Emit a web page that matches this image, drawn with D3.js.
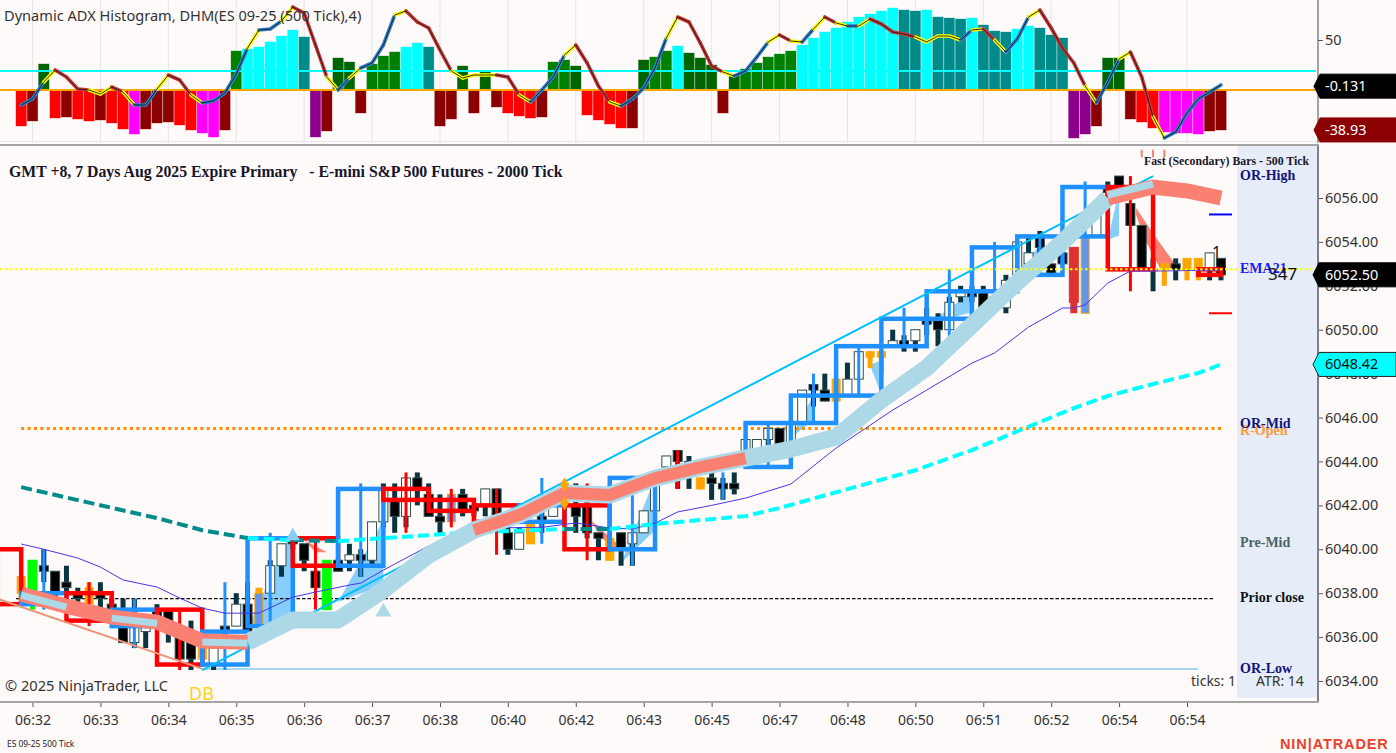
<!DOCTYPE html>
<html><head><meta charset="utf-8">
<script src="https://cdn.jsdelivr.net/npm/d3@7"></script>
<style>
html,body{margin:0;padding:0;background:#fffafa;overflow:hidden}
svg{display:block}
</style></head><body><svg id="c" width="1396" height="753"></svg>
<script>
// ---------- data ----------
const firstSlot = -1;
const timeLabels = ["06:32","06:33","06:34","06:35","06:36","06:37","06:38","06:40","06:42","06:43","06:45","06:47","06:48","06:50","06:51","06:52","06:54","06:54"];
const priceTicks = [6034,6036,6038,6040,6042,6044,6046,6048,6050,6052,6054,6056];

// oscillator histogram, slots -1..105
const histValues = [-36,-31,26,-28,-27,-29,-31,-30,-33,-39,-44,-39,-33,-32,-35,-40,-43,-47,-40,39,41,43,48,54,60,53,-47,-41,32,28,-23,26,34,38,43,47,43,-36,-29,24,-23,18,-17,-23,-26,-28,-27,28,30,24,-25,-30,-34,-38,-38,30,33,39,44,37,32,25,-23,14,21,27,33,36,39,45,52,58,62,68,73,76,79,82,80,79,80,73,72,71,72,65,59,58,61,64,62,55,52,-48,-44,-36,32,32,-29,-32,-38,-42,-43,-43,-44,-41,-40];
const histColors = "r,D,G,r,D,r,r,D,r,r,m,D,D,D,r,r,m,m,D,g,c,c,c,c,c,t,p,D,G,G,D,g,g,g,c,c,t,D,D,G,D,G,D,r,r,r,D,g,g,G,r,r,r,r,D,G,g,g,c,G,G,G,D,G,g,g,g,g,g,c,c,c,c,c,c,c,c,c,t,t,c,t,t,t,c,t,t,t,c,c,t,t,t,p,p,D,G,G,D,r,r,m,m,m,m,D,D".split(",");
const dhmValues = [-15,-9,8,20,13,1,0,-4,3,-2,-15,-15,1,15,10,-5,-13,-11,-3,16,42,60,61,69,83,77,45,13,0,12,22,27,45,75,79,68,62,40,19,12,15,15,15,13,-5,-12,0,13,35,45,27,4,-12,-16,-9,2,22,52,73,68,47,24,18,14,19,33,48,55,49,48,61,73,67,64,64,71,66,58,56,53,48,54,54,50,60,61,50,38,51,73,80,62,42,27,4,-13,8,31,38,13,-27,-48,-42,-23,-9,-2,5];
const dhmStates = "bbyrrryyrybbyrrybbbbybbyrrrybybbbyrrrryyyyrrybbbyrrrybbbbyrrrrybbbyrybyrybyrrrryyyybyrybbyrrrrybbyrrybbbbb";
const oscLevel = 19, oscLabelA = -0.131, oscLabelB = -38.93;

// 500-tick candles, slots -1..105
const candleKinds = "OGDDDDODDDU"+"UDDDDOUDUD"+"BUUDDDGDUD"+"UUDUDDDBDD"+"UDDUODUODD"+"DODUUUUDDO"+"DDDUUUDUUD"+"DOUUOOUDUD"+"DUUDDDUUUD"+"DDRBUDDDDD"+"ODOOUD";
const candleBodyTop = [6038.75,6039.5,6039.25,6039,6038.5,6038,6038.25,6038,6037.5,6036.5,6036.5,6036.75,6037.25,6037.25,6036,6035.75,6035.5,6035.5,6036.5,6037.5,6037.5,6038,6039.25,6040.25,6040.5,6040.25,6039,6039.5,6039.5,6039.75,6039.75,6041.25,6042.75,6042.25,6043.25,6043.25,6042.5,6041.5,6042.5,6042.5,6042,6042.75,6042.75,6040.75,6040.75,6041.25,6041.5,6042,6043,6042,6042,6040.75,6040.5,6040.75,6040.75,6041.75,6043.25,6044.25,6044.5,6044,6043.25,6043.25,6043,6043,6045,6045,6045.5,6045.5,6045.75,6047.25,6047.5,6047.25,6047.75,6047.75,6049,6049,6049,6049.5,6049.5,6050,6050.5,6050.5,6051.25,6051.75,6051.75,6051.75,6051.5,6052.25,6054,6053.5,6054.25,6053,6053.5,6053.75,6054.25,6055.75,6056.5,6057,6055.75,6054.75,6052.75,6053,6053,6053.25,6053.25,6053.5,6053.25];
const candleBodyBottom = [6038,6037.5,6039,6038,6038.25,6037.75,6037.5,6037.75,6037.25,6035.75,6035.75,6036.25,6036.75,6036.75,6035,6035,6035,6034.75,6036.25,6036.5,6036.25,6036.5,6038,6039.25,6040.25,6039.5,6038.25,6037.25,6039,6039.5,6039.5,6039.5,6041.25,6041.5,6041.5,6042.75,6041.5,6041.25,6041.25,6041.75,6041.75,6042,6041.5,6040,6040,6040.25,6041.25,6041.5,6042,6041.5,6040.75,6040.5,6039.5,6040,6040.25,6040.75,6041.75,6043.75,6044,6043.75,6042.75,6043,6042.75,6042.75,6044.5,6044.5,6045,6044.75,6044.75,6045.75,6047.25,6046.75,6046.75,6047,6047.75,6048.75,6048.75,6049.25,6049.25,6049.5,6050.25,6050,6050,6051.5,6051.5,6051,6051.25,6051,6052.25,6053,6053.75,6052.5,6053,6051.25,6050.75,6054.25,6056.25,6056.5,6054.75,6052.75,6052.75,6052.75,6052.75,6052.75,6052.75,6052.75,6052.5];
const candleHigh = [6038.75,6039.5,6040,6039,6039.25,6038.25,6038.5,6038.5,6037.75,6037.75,6037.75,6036.75,6037.5,6037.25,6036.5,6036.75,6035.5,6035.5,6036.5,6038,6038.5,6038.25,6039.5,6040.25,6040.75,6040.25,6039,6039.5,6039.5,6040.25,6040,6041.25,6043,6043,6043.25,6043.5,6043,6042.5,6042.5,6042.75,6042,6042.75,6042.75,6041.25,6041,6041.25,6042,6042,6043,6043,6042.25,6040.75,6040.5,6040.75,6040.75,6041.75,6043.25,6044.25,6044.5,6044.25,6043.25,6043.5,6043.25,6043.5,6045,6045,6045.5,6045.5,6045.75,6047.25,6047.5,6048,6047.75,6048.5,6049,6049,6049,6050,6049.75,6050,6051,6050.75,6051.5,6052,6052,6052,6051.5,6052.5,6054,6054.25,6054.5,6053,6053.5,6053.75,6054.25,6055.75,6056.75,6057,6055.75,6054.75,6053.25,6053,6053.25,6053.25,6053.25,6053.5,6053.25];
const candleLow = [6037.5,6037.25,6038.5,6037.5,6038,6037.25,6037.5,6037.25,6037.25,6035.75,6035.5,6035.5,6036.5,6035.75,6035,6034.5,6035,6034.5,6035.5,6036.5,6036.25,6036.5,6038,6038.75,6040,6039,6038.25,6037.25,6039,6039,6038.75,6039.25,6041,6040.75,6041,6042,6041.5,6040.75,6041.25,6041.5,6041.5,6041.5,6041.5,6039.75,6040,6040.25,6040.75,6041.5,6042,6040.75,6040.5,6039.5,6039.5,6039.25,6039.25,6040.75,6041.75,6043.5,6042.75,6042.75,6042.75,6042.25,6042.25,6042.5,6044.25,6044.5,6044.75,6044.75,6044.75,6045.75,6046.5,6046.75,6046.75,6047,6047.75,6048.25,6048,6049.25,6049,6049,6049.75,6049.25,6050,6051.25,6051.25,6051,6051.25,6050.75,6052.25,6053,6053.25,6052.5,6053,6050.75,6050.75,6054.25,6056,6056.5,6054.75,6052.75,6051.75,6052,6052.25,6052.25,6052.25,6052.25,6052.25];

// 2000-tick bars: each spans four slots, starting at slot barStart
const barStart = [-5,-1,3,7,11,15,19,23,27,31,35,39,43,47,51,55,59,63,67,71,75,79,83,87,91,95,99,103];
const barDir = "rbrbrbbrbrrrbrbrbbbbbbbbbrrr";
const barTop = [6040,6038,6038,6037.25,6037.25,6036.25,6040.5,6040.5,6042.75,6042.75,6042.25,6042,6042,6042,6043.25,6043,6043,6045.75,6047,6049.25,6050.5,6051.75,6053.75,6054.25,6056.5,6056.5,6052.75,6052.75];
const barBottom = [6037.5,6037.5,6036.75,6036.5,6034.75,6034.75,6036.5,6039.25,6039.25,6042.25,6041.75,6041.25,6041.25,6040,6040,6043,6043,6043.75,6045.75,6047,6049.25,6050.5,6051.75,6052.5,6054.25,6052.75,6052.75,6052.5];
const barHigh = [6040,6040,6038.5,6037.75,6037.25,6038.5,6040.75,6040.5,6043,6043.5,6042.75,6042.75,6043.25,6043,6043.25,6044.5,6043.5,6045.75,6048,6049.25,6051,6052.75,6054,6054.25,6056.75,6057,6052.75,6052.75];
const barLow = [6037.5,6037.25,6036.5,6035.5,6034.5,6034.5,6036.5,6037.25,6038.75,6040.75,6041,6039.75,6040.25,6039.5,6039.25,6042.75,6042.25,6043.75,6045.75,6047,6049.25,6049.5,6051.75,6052.5,6054.25,6051.75,6052.75,6052.5];

// thick moving-average ribbon
const ribbonSlots = [-1,3,7,11,15,19,23,27,31,35,39,43,47,51,55,59,63,67,71,75,79,83,87,91,95,99,102,105];
const ribbonPrices = [6037.96,6037.41,6036.91,6036.68,6035.82,6035.77,6036.78,6036.78,6038.14,6039.74,6040.87,6041.56,6042.56,6042.47,6043.24,6043.74,6044.15,6044.56,6045.11,6046.8,6048.26,6050.21,6052.17,6053.99,6056,6056.5,6056.32,6056];
const ribbonOverlap = [[-1,3],[7,11],[15,19],[95,99]];
const ribbonSalmon = [[-1,19],[39,63],[95,105]];
const ribbonBlue = [[19,95]];

// thin EMA
const emaSlots = [-1,1,4,6,8,11,13,15,17,20,23,25,28,29,31,35,37,39,40,45,48,51,53,55,57,60,63,67,71,76,79,83,85,88,91,92,93,95,97,99,105];
const emaPrices = [6040.24,6040,6039.6,6039.19,6038.6,6038.28,6037.78,6037.32,6037.09,6037.09,6037.82,6038.05,6038.37,6038.46,6039.05,6040.15,6040.33,6040.78,6040.97,6041,6041.2,6040.97,6040.92,6041.19,6041.7,6042,6042.33,6042.97,6044.61,6046.34,6047.25,6048.48,6048.94,6050.12,6050.99,6050.99,6051.13,6052.13,6052.67,6052.67,6052.72];

// slow dashed EMA
const slowSlots = [-1,4,11,15,19,23,27,39,47,51,55,63,66,72,78,83,92,95,99,103,105];
const slowPrices = [6042.83,6042.24,6041.42,6040.87,6040.51,6040.42,6040.37,6040.78,6040.92,6040.92,6041.15,6041.51,6041.88,6042.74,6043.6,6044.52,6046.43,6046.98,6047.53,6048.03,6048.42];
const slowTeal = [[-1,19],[23,27],[47,51]];
const slowCyan = [[19,23],[27,47],[51,105]];

// shaded wedges between the fast line and the ribbon
const wedgesBlue = [
 [[19,6036.41],[23,6040.97],[23,6036.78]],
 [[27,6037.6],[31,6041.33],[31,6038.37]],
 [[52,6039.37],[55,6043.24],[55,6040.87]],
 [[67,6045.07],[69,6047.03],[69,6045.89]],
 [[74,6048.39],[75,6048.62],[75,6047.03]],
 [[79,6050.21],[83,6051.72],[83,6050.81]],
 [[87,6052.63],[89,6053.86],[89,6052.81]],
 [[95,6054.09],[96,6056.36],[96,6054.3]]
];
const wedgesSalmon = [
 [[24,6040.42],[26,6039.87],[25,6039.87]],
 [[49,6041.47],[52,6040.1],[51,6040.1]],
 [[97.5,6055.54],[99.1,6054.31],[101.2,6052.81],[99.6,6052.81],[98.3,6054.09],[97.5,6055.23]]
];

// straight levels and trend lines
const trendUp = [[15,6034.5],[99,6057]];
const trendDown = [[-3,6037.73],[15,6034.55]];
const baseLine = [[15,6034.55],[103,6034.55]];
const levelOpen = 6045.5, levelClose = 6037.75, levelLast = 6052.75;
const lastPrice = 6052.5, emaPrice = 6048.42;
const markHigh = 6055.25, markLow = 6050.75;
const sideLabels = [
 ["OR-High",6057,"#13137a"],["EMA21",6052.75,"#1a1aff"],["R-Open",6045.4,"#ff9a3c"],
 ["OR-Mid",6045.7,"#13137a"],["Pre-Mid",6040.3,"#4a6464"],["Prior close",6037.8,"#111"],["OR-Low",6034.55,"#13137a"]
];

// ---------- drawing ----------
const svg = d3.select("#c");
const W = 1396, axisX = 1318, mainTop = 146, mainBottom = 701, topBottom = 143;
const x = d3.scaleLinear().domain([0,102]).range([32.5,1187]);
const y = d3.scaleLinear().domain([6034,6056]).range([681,198]);
const yo = d3.scaleLinear().domain([0,50]).range([90,40]);
const sans = "'Noto Sans','Open Sans',sans-serif", serif = "'Liberation Serif',serif";

svg.append("rect").attr("width",W).attr("height",753).attr("fill","#fffafa");
const defs = svg.append("defs");
defs.append("clipPath").attr("id","cm").append("rect").attr("x",0).attr("y",mainTop).attr("width",axisX).attr("height",mainBottom-mainTop-1);
defs.append("clipPath").attr("id","ct").append("rect").attr("x",0).attr("y",0).attr("width",axisX).attr("height",topBottom);

const slots = d3.range(firstSlot, firstSlot+histValues.length);
const tickSlots = timeLabels.map((_,k)=>k*6);

// --- oscillator panel
const oscG = svg.append("g").attr("clip-path","url(#ct)");
oscG.selectAll("line.g").data(tickSlots).join("line").attr("x1",d=>x(d)).attr("x2",d=>x(d)).attr("y1",0).attr("y2",topBottom).attr("stroke","#e6e4e4");
const hcol = {r:"#ff0000",D:"#8b0000",g:"#008000",G:"#006400",c:"#00ffff",t:"#008b8b",m:"#ff00ff",p:"#8b008b"};
oscG.selectAll("rect.h").data(histValues).join("rect")
 .attr("x",(d,k)=>x(slots[k])-5.2).attr("width",10.4)
 .attr("y",d=>d>=0?yo(d):yo(0)).attr("height",d=>Math.abs(yo(d)-yo(0)))
 .attr("fill",(d,k)=>hcol[histColors[k]]).attr("stroke",(d,k)=>hcol[histColors[k]]).attr("stroke-opacity",.45).attr("stroke-width",.8);
oscG.append("line").attr("x1",0).attr("x2",1316).attr("y1",yo(oscLevel)).attr("y2",yo(oscLevel)).attr("stroke","#00ffff").attr("stroke-width",2);
oscG.append("line").attr("x1",0).attr("x2",1316).attr("y1",yo(0)).attr("y2",yo(0)).attr("stroke","#ffa500").attr("stroke-width",2);
const dcol = {b:"#2f80c8",y:"#ffff00",r:"#c83838"};
d3.range(dhmValues.length-1).forEach(k=>{
  oscG.append("line").attr("x1",x(slots[k])).attr("x2",x(slots[k+1])).attr("y1",yo(dhmValues[k])).attr("y2",yo(dhmValues[k+1]))
   .attr("stroke",dcol[dhmStates[k]]).attr("stroke-width",3.6).attr("stroke-linecap","round");
});
oscG.append("path").attr("d",d3.line().x((d,k)=>x(slots[k])).y(d=>yo(d))(dhmValues)).attr("fill","none").attr("stroke","#111").attr("stroke-opacity",.85).attr("stroke-width",1);
svg.append("text").text("Dynamic ADX Histogram, DHM(ES 09-25 (500 Tick),4)").attr("x",4).attr("y",21).attr("font-family",sans).attr("font-size",14.6).attr("fill","#333");
svg.append("rect").attr("x",0).attr("y",144).attr("width",axisX+1).attr("height",2).attr("fill","#a5a3a3");
svg.append("rect").attr("x",0).attr("y",141).attr("width",axisX).attr("height",1).attr("fill","#e8e6e6");

// --- main panel
svg.append("rect").attr("x",1237).attr("y",mainTop).attr("width",axisX-1237).attr("height",698-mainTop).attr("fill","#e6edf9");
const m = svg.append("g").attr("clip-path","url(#cm)");
const poly = d3.line().x(d=>x(d[0])).y(d=>y(d[1]));

m.selectAll("path.wb").data(wedgesBlue).join("path").attr("d",d=>poly(d)+"Z").attr("fill","#87cefa");
m.selectAll("path.ws").data(wedgesSalmon).join("path").attr("d",d=>poly(d)+"Z").attr("fill","#fa8072");

// levels
m.append("line").attr("x1",x(-1)).attr("x2",x(105)).attr("y1",y(levelOpen)).attr("y2",y(levelOpen)).attr("stroke","#ff8c00").attr("stroke-width",3).attr("stroke-dasharray","3 3.4");
m.append("line").attr("x1",16).attr("x2",1215).attr("y1",y(levelClose)).attr("y2",y(levelClose)).attr("stroke","#000").attr("stroke-width",1.3).attr("stroke-dasharray","3.5 2");
m.append("path").attr("d",poly(baseLine)).attr("stroke","#87ceeb").attr("stroke-width",1.5).attr("fill","none");

// candles
const ccol = {
 D:{w:"#0a3540",f:"#000",s:"#2f4f4f",bw:9},
 U:{w:"#0a3540",f:"#fff",s:"#2f4f4f",bw:9},
 O:{w:"#ffa500",f:"#ffa500",s:"#ffa500",bw:8},
 G:{w:"#00ff00",f:"#00ff00",s:"#00ff00",bw:9},
 B:{w:"#ffa500",f:"#6495ed",s:"#ffa500",bw:8},
 R:{w:"#dc3232",f:"#dc3232",s:"#dc3232",bw:9}
};
const cg = m.append("g");
slots.forEach((s,k)=>{
 const c = ccol[candleKinds[k]];
 cg.append("line").attr("x1",x(s)).attr("x2",x(s)).attr("y1",y(candleHigh[k])).attr("y2",y(candleLow[k])).attr("stroke",c.w).attr("stroke-width",candleKinds[k]==="R"||candleKinds[k]==="B"?7:5);
 cg.append("rect").attr("x",x(s)-c.bw/2).attr("width",c.bw).attr("y",y(candleBodyTop[k])).attr("height",Math.max(1,y(candleBodyBottom[k])-y(candleBodyTop[k])))
  .attr("fill",c.f).attr("stroke",c.s).attr("stroke-width",1);
});
// salmon marks at the very top of the panel
[98,99,100].forEach(s=>m.append("line").attr("x1",x(s)).attr("x2",x(s)).attr("y1",y(6058.2)).attr("y2",y(6057.85)).attr("stroke","#fa8072").attr("stroke-width",2));

// 2000-tick bars
const bcol = {r:"#ff0000",b:"#1e90ff"};
barStart.forEach((s,k)=>{
 const mid = s+2, e = Math.min(s+4,105), col = bcol[barDir[k]];
 m.append("line").attr("x1",x(mid)).attr("x2",x(mid)).attr("y1",y(barHigh[k])).attr("y2",y(barLow[k])).attr("stroke",col).attr("stroke-width",3);
 const h = y(barBottom[k])-y(barTop[k]);
 m.append("rect").attr("x",x(s)).attr("width",x(e)-x(s)).attr("y",y(barTop[k])).attr("height",h).attr("fill","none").attr("stroke",col).attr("stroke-width",4.5);
});

// ema + trend lines
m.append("path").attr("d",d3.line().x((d,k)=>x(emaSlots[k])).y(d=>y(d)).curve(d3.curveLinear)(emaPrices)).attr("fill","none").attr("stroke","#4a35e8").attr("stroke-width",1);
m.append("path").attr("d",poly(trendDown)).attr("stroke","#e9967a").attr("stroke-width",2).attr("fill","none");
m.append("path").attr("d",poly(trendUp)).attr("stroke","#00bfff").attr("stroke-width",2).attr("fill","none");

// slow dashed ema
const slowPts = slowSlots.map((s,k)=>[s,slowPrices[k]]);
const sub = (pts,r)=>pts.filter(p=>p[0]>=r[0]&&p[0]<=r[1]);
slowCyan.forEach(r=>m.append("path").attr("d",poly(sub(slowPts,r))).attr("fill","none").attr("stroke","#00ffff").attr("stroke-width",4).attr("stroke-dasharray","11 5"));
slowTeal.forEach(r=>m.append("path").attr("d",poly(sub(slowPts,r))).attr("fill","none").attr("stroke","#008b8b").attr("stroke-width",4).attr("stroke-dasharray","11 5"));

// ribbon
const ribPts = ribbonSlots.map((s,k)=>[s,ribbonPrices[k]]);
ribbonBlue.forEach(r=>m.append("path").attr("d",poly(sub(ribPts,r))).attr("fill","none").attr("stroke","#add8e6").attr("stroke-width",17).attr("stroke-linejoin","round"));
ribbonSalmon.forEach(r=>m.append("path").attr("d",poly(sub(ribPts,r))).attr("fill","none").attr("stroke","#fa8072").attr("stroke-width",r[0]===39?12:15));
ribbonOverlap.forEach(r=>{
 const off = r[0]===95?-3:1;
 m.append("path").attr("d",poly(sub(ribPts,r))).attr("transform",`translate(0,${off})`).attr("fill","none").attr("stroke","#add8e6").attr("stroke-width",7);
});

// triangles
m.append("path").attr("d",d3.symbol(d3.symbolTriangle,110)()).attr("transform",`translate(${x(31)},${y(6037.15)})`).attr("fill","#add8e6");
m.append("path").attr("d",d3.symbol(d3.symbolTriangle,90)()).attr("transform",`translate(${x(23)},${y(6040.6)})`).attr("fill","#87cefa");
// diamonds on the flat section
[[47,6042.95],[47,6042.1],[59,6043]].forEach(d=>m.append("path").attr("d",d3.symbol(d3.symbolDiamond,60)()).attr("transform",`translate(${x(d[0])},${y(d[1])})`).attr("fill","#ffa500"));

// last-price dotted line + short marks
m.append("line").attr("x1",0).attr("x2",axisX).attr("y1",y(levelLast)).attr("y2",y(levelLast)).attr("stroke","#ffff00").attr("stroke-width",2).attr("stroke-dasharray","2.5 2.5");
m.append("line").attr("x1",1209).attr("x2",1232).attr("y1",y(markHigh)).attr("y2",y(markHigh)).attr("stroke","#0000ff").attr("stroke-width",2);
m.append("line").attr("x1",1209).attr("x2",1232).attr("y1",y(markLow)).attr("y2",y(markLow)).attr("stroke","#ff0000").attr("stroke-width",2);

// text inside the panel
m.append("text").text("DB").attr("x",189).attr("y",700).attr("font-family",sans).attr("font-size",18).attr("fill","#ffd21f");
svg.append("text").text("GMT +8, 7 Days Aug 2025 Expire Primary   - E-mini S&P 500 Futures - 2000 Tick").attr("xml:space","preserve").attr("x",9).attr("y",177).attr("font-family",serif).attr("font-weight","bold").attr("font-size",15.8).attr("fill","#16162a");
svg.append("text").text("Fast (Secondary) Bars - 500 Tick").attr("x",1144).attr("y",165).attr("font-family",serif).attr("font-weight","bold").attr("font-size",11.8).attr("fill","#16162a");
sideLabels.forEach(l=>svg.append("text").text(l[0]).attr("x",1240).attr("y",y(l[1])+4).attr("font-family",serif).attr("font-weight","bold").attr("font-size",14).attr("fill",l[2]));
svg.append("text").text("1").attr("x",1212).attr("y",258).attr("font-family",sans).attr("font-size",16).attr("fill","#111");
svg.append("text").text("347").attr("x",1268).attr("y",280).attr("font-family",sans).attr("font-size",17).attr("fill","#111");
svg.append("text").text("ticks: 1").attr("x",1191).attr("y",686).attr("font-family",sans).attr("font-size",14).attr("fill","#333");
svg.append("text").text("ATR: 14").attr("x",1256).attr("y",686).attr("font-family",sans).attr("font-size",14).attr("fill","#333");
svg.append("text").text("© 2025 NinjaTrader, LLC").attr("x",5).attr("y",691).attr("font-family",sans).attr("font-size",14.6).attr("fill","#333");

// axes
const styleAxis = g=>{g.select(".domain").remove();g.selectAll("line").attr("stroke","#555");g.selectAll("text").attr("font-family",sans).attr("fill","#333");};
const pa = d3.axisRight(y).tickValues(priceTicks).tickFormat(d3.format(".2f")).tickSize(5).tickPadding(2);
svg.append("g").attr("transform",`translate(${axisX},0)`).call(pa).call(styleAxis).call(g=>g.selectAll("text").attr("font-size",14.4));
const oa = d3.axisRight(yo).tickValues([50]).tickSize(5).tickPadding(2);
svg.append("g").attr("transform",`translate(${axisX},0)`).call(oa).call(styleAxis).call(g=>g.selectAll("text").attr("font-size",14.4));
const ta = d3.axisBottom(x).tickValues(tickSlots).tickFormat((d,k)=>timeLabels[k]).tickSize(5).tickPadding(8);
svg.append("g").attr("transform",`translate(0,${mainBottom+1})`).call(ta).call(styleAxis).call(g=>g.selectAll("text").attr("font-size",14));
svg.append("line").attr("x1",axisX).attr("x2",axisX).attr("y1",0).attr("y2",143).attr("stroke","#666").attr("stroke-width",1.2);
svg.append("line").attr("x1",axisX).attr("x2",axisX).attr("y1",146).attr("y2",703).attr("stroke","#808080").attr("stroke-width",2);
svg.append("rect").attr("x",0).attr("y",mainBottom).attr("width",axisX+1).attr("height",2).attr("fill","#a5a3a3");

// axis flags
function flag(cy,txt,fill,stroke,tc,left){
 const h=12, tip=left, r=1396;
 svg.append("path").attr("d",`M${tip},${cy}L${tip+6},${cy-h}L${r},${cy-h}L${r},${cy+h}L${tip+6},${cy+h}Z`).attr("fill",fill).attr("stroke",stroke);
 svg.append("text").text(txt).attr("x",1325).attr("y",cy+5).attr("font-family",sans).attr("font-size",14.4).attr("fill",tc);
}
flag(y(lastPrice),lastPrice.toFixed(2),"#000","#000","#fff",1313);
flag(y(emaPrice),emaPrice.toFixed(2),"#00ffff","#222","#111",1313);
flag(yo(oscLabelA)-4,String(oscLabelA),"#000","#000","#fff",1314);
flag(yo(oscLabelB)+1,String(oscLabelB),"#8b0000","#8b0000","#fff",1314);

// footer
svg.append("text").text("ES 09-25 500 Tick").attr("x",7).attr("y",747).attr("font-family",sans).attr("font-size",8.4).attr("fill","#222");
svg.append("text").text("NIN|ATRADER").attr("x",1280).attr("y",749).attr("font-family","'Liberation Sans',sans-serif").attr("font-weight","bold").attr("font-size",14.5).attr("letter-spacing",.9).attr("fill","#e8432a");
</script></body></html>
